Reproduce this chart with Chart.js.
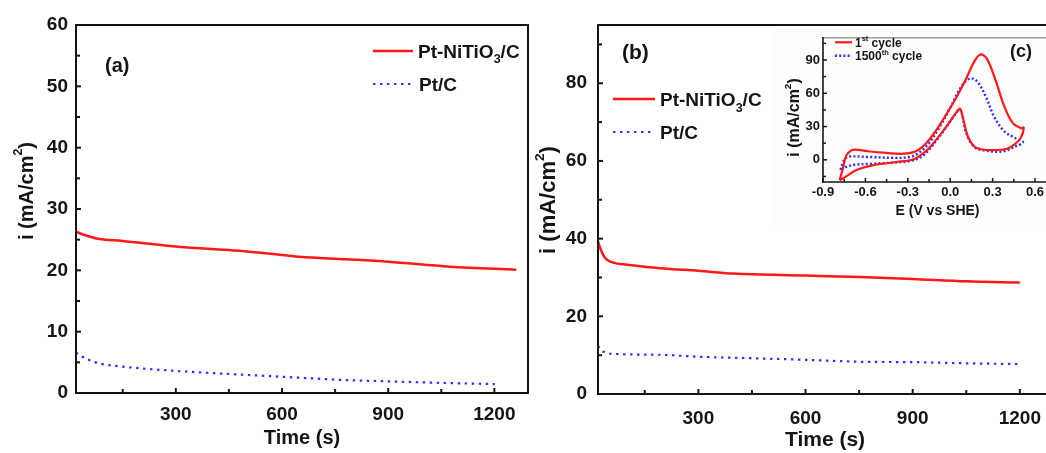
<!DOCTYPE html>
<html><head><meta charset="utf-8">
<script src="https://cdn.jsdelivr.net/npm/chart.js@4.4.1/dist/chart.umd.min.js"></script>
<style>
html,body{margin:0;padding:0;width:1046px;height:453px;overflow:hidden;background:#fff;}
.w{position:absolute;}
canvas{display:block;}
</style></head><body>
<div class="w" style="left:0;top:0;width:540px;height:453px"><canvas id="ca" width="540" height="453" style="width:540px;height:453px"></canvas></div>
<div class="w" style="left:525px;top:0;width:535px;height:453px"><canvas id="cb" width="535" height="453" style="width:535px;height:453px"></canvas></div>
<div class="w" style="left:772px;top:27px;width:288px;height:198px;background:#fdfdfd"><canvas id="cc" width="288" height="198" style="width:288px;height:198px"></canvas></div>
<script>
// ---------- data ----------
// (a) chronoamperometry
const timeA_PtNiTiO3 = [18, 40, 76, 150, 300, 450, 600, 650, 780, 900, 1075, 1262];
const currA_PtNiTiO3 = [26.3, 25.8, 25.2, 24.8, 23.9, 23.3, 22.5, 22.2, 21.8, 21.4, 20.6, 20.1];
const timeA_PtC = [18, 30, 50, 85, 150, 300, 450, 600, 783, 900, 1050, 1201];
const currA_PtC = [6.6, 6.1, 5.5, 4.8, 4.3, 3.6, 3.1, 2.65, 2.1, 1.9, 1.65, 1.45];
// (b) chronoamperometry
const timeB_PtNiTiO3 = [19, 25, 39, 67, 100, 193, 300, 398, 600, 752, 900, 1050, 1200];
const currB_PtNiTiO3 = [39.3, 37.6, 35.0, 33.7, 33.3, 32.4, 31.7, 31.0, 30.5, 30.1, 29.6, 29.0, 28.7];
const timeB_PtC = [19, 25, 34, 72, 193, 300, 454, 600, 752, 900, 1050, 1200];
const currB_PtC = [12.4, 11.6, 10.9, 10.3, 10.1, 9.6, 9.2, 8.8, 8.3, 8.2, 7.9, 7.7];
// (c) cyclic voltammograms
const cvE_1st = [-0.782, -0.76, -0.735, -0.70, -0.67, -0.57, -0.45, -0.33, -0.24, -0.17, -0.10, -0.03, 0.04, 0.11, 0.17, 0.215, 0.26, 0.32, 0.38, 0.44, 0.50, 0.52,
                 0.50, 0.465, 0.40, 0.30, 0.22, 0.17, 0.125, 0.095, 0.07, 0.045, -0.03, -0.10, -0.17, -0.26, -0.38, -0.55, -0.66, -0.73, -0.782];
const cvI_1st = [-18.5, -8, 4, 8.5, 9.2, 7.5, 6.2, 5.5, 8, 15, 26.5, 40.5, 55.5, 72.5, 88.5, 95, 91, 72, 49, 33.5, 28.5, 29,
                 20, 15, 10, 8.7, 9.5, 12, 21, 35, 46, 43, 29.5, 18, 8, 0.5, -2, -5, -9, -14.5, -18.5];
const cvE_1500 = [-0.777, -0.76, -0.745, -0.71, -0.57, -0.40, -0.29, -0.22, -0.15, -0.075, 0.0, 0.066, 0.11, 0.15, 0.195, 0.255, 0.31, 0.38, 0.455, 0.515,
                  0.47, 0.37, 0.26, 0.175, 0.115, 0.08, 0.065, 0.035, -0.03, -0.10, -0.19, -0.28, -0.40, -0.55, -0.68, -0.74, -0.777];
const cvI_1500 = [-9, -3, 1, 3, 2.5, 1.8, 2.5, 6.5, 15, 29.5, 47, 63.5, 71, 73.5, 70, 56, 39, 26, 20, 16,
                  12.5, 7.5, 8.2, 11, 23.5, 43, 45.5, 41, 29, 17, 4, -1, -2.5, -3.5, -4.5, -6.5, -9];
// tick labels
const timeTicks = [300, 600, 900, 1200];
const timeMinor = [150, 450, 750, 1050];
const yTicksA = [0, 10, 20, 30, 40, 50, 60];
const yMinorA = [5, 15, 25, 35, 45, 55];
const yTicksB = [0, 20, 40, 60, 80];
const yMinorB = [10, 30, 50, 70, 90];
const eTicks = [-0.9, -0.6, -0.3, 0.0, 0.3, 0.6];
const eMinor = [-0.75, -0.45, -0.15, 0.15, 0.45];
const iTicksC = [0, 30, 60, 90];
const iMinorC = [-15, 15, 45, 75, 105];
const seriesNames = ['Pt-NiTiO3/C', 'Pt/C'];
const cvNames = ['1st cycle', '1500th cycle'];

// ---------- style ----------
const FONT = '"Liberation Sans", Arial, Helvetica, sans-serif';
const INK = '#151515';
const RED = 'rgb(255,24,24)';
const BLUE = 'rgb(45,45,255)';

const pts = (xs, ys) => xs.map((x, i) => ({x, y: ys[i]}));
const setTicks = arr => s => { s.ticks = arr.map(v => ({value: v})); };

function xScale(min, max, ticks, fmt, fs, pad, h, title, ts, tpb) {
  return {type: 'linear', min, max, afterBuildTicks: setTicks(ticks), afterFit: s => { s.height = h; },
    grid: {display: false, drawTicks: false}, border: {display: false},
    ticks: {autoSkip: false, maxRotation: 0, padding: pad, color: INK, font: {family: FONT, size: fs, weight: 'bold'}, callback: fmt},
    title: {display: true, text: title, color: INK, font: {family: FONT, size: ts, weight: 'bold'}, padding: {top: 0, bottom: tpb}}};
}
function yScale(min, max, ticks, fmt, fs, pad, w) {
  return {type: 'linear', min, max, afterBuildTicks: setTicks(ticks), afterFit: s => { s.width = w; },
    grid: {display: false, drawTicks: false}, border: {display: false},
    ticks: {autoSkip: false, padding: pad, color: INK, font: {family: FONT, size: fs, weight: 'bold'}, callback: fmt}};
}

function line(ctx, x1, y1, x2, y2) { ctx.beginPath(); ctx.moveTo(x1, y1); ctx.lineTo(x2, y2); ctx.stroke(); }

const framePlugin = {
  id: 'frame',
  afterDatasetsDraw(chart, args, o) {
    if (!o || !o.sides) return;
    const {ctx, chartArea: a, scales: {x, y}} = chart;
    ctx.save();
    ctx.setLineDash([]);
    ctx.lineCap = 'square';
    const s = o.sides;
    const seg = (c, x1, y1, x2, y2) => { if (!c) return; ctx.strokeStyle = c; ctx.lineWidth = o.width; line(ctx, x1, y1, x2, y2); };
    seg(s.top, a.left, a.top, a.right, a.top);
    seg(s.right, a.right, a.top, a.right, a.bottom);
    seg(s.bottom, a.left, a.bottom, a.right, a.bottom);
    seg(s.left, a.left, a.top, a.left, a.bottom);
    ctx.strokeStyle = INK; ctx.lineWidth = o.tickWidth; ctx.lineCap = 'butt';
    o.xMajor.forEach(v => { const p = x.getPixelForValue(v); line(ctx, p, a.bottom, p, a.bottom - o.major); });
    o.xMinor.forEach(v => { const p = x.getPixelForValue(v); line(ctx, p, a.bottom, p, a.bottom - o.minor); });
    o.yMajor.forEach(v => { const p = y.getPixelForValue(v); line(ctx, a.left, p, a.left + o.major, p); });
    o.yMinor.forEach(v => { const p = y.getPixelForValue(v); line(ctx, a.left, p, a.left + o.minor, p); });
    ctx.restore();
  }
};

function rich(ctx, x, y, segs, size, measureOnly) {
  let cx = x;
  for (const s of segs) {
    let fs = size, dy = 0;
    if (s.m === 'sub') { fs = size * 0.66; dy = size * 0.3; }
    if (s.m === 'sup') { fs = size * 0.62; dy = -size * 0.42; }
    ctx.font = 'bold ' + fs + 'px ' + FONT;
    if (!measureOnly) ctx.fillText(s.t, cx, y + dy);
    cx += ctx.measureText(s.t).width;
  }
  return cx - x;
}

const notesPlugin = {
  id: 'notes',
  afterDraw(chart, args, o) {
    if (!o || !o.items) return;
    const ctx = chart.ctx;
    ctx.save();
    ctx.fillStyle = INK;
    for (const it of o.items) {
      if (it.kind === 'text') {
        ctx.textBaseline = 'alphabetic'; ctx.textAlign = 'left';
        rich(ctx, it.x, it.y, it.segs, it.size);
      } else if (it.kind === 'legend') {
        const ds = chart.data.datasets[it.ds];
        ctx.save();
        ctx.strokeStyle = ds.borderColor; ctx.lineWidth = ds.borderWidth;
        ctx.setLineDash(ds.borderDash || []);
        line(ctx, it.x1, it.ly, it.x2, it.ly);
        ctx.restore();
        ctx.textBaseline = 'alphabetic'; ctx.textAlign = 'left';
        rich(ctx, it.tx, it.ty, it.segs, it.size);
      } else if (it.kind === 'vtitle') {
        ctx.save();
        ctx.translate(it.cx, it.cy);
        ctx.rotate(-Math.PI / 2);
        ctx.textBaseline = 'middle'; ctx.textAlign = 'left';
        const w = rich(ctx, 0, 0, it.segs, it.size, true);
        rich(ctx, -w / 2, 0, it.segs, it.size);
        ctx.restore();
      }
    }
    ctx.restore();
  }
};
Chart.register(framePlugin, notesPlugin);
Chart.defaults.font.family = FONT;

const iTitle = [{t: 'i (mA/cm'}, {t: '2', m: 'sup'}, {t: ')'}];
const legSegs = [[{t: 'Pt-NiTiO'}, {t: '3', m: 'sub'}, {t: '/C'}], [{t: 'Pt/C'}]];
const num = v => String(v);

function tDatasets(t1, c1, t2, c2) {
  return [
    {label: seriesNames[0], data: pts(t1, c1), showLine: true, borderColor: RED, borderWidth: 2.5, pointRadius: 0, cubicInterpolationMode: 'monotone'},
    {label: seriesNames[1], data: pts(t2, c2), showLine: true, borderColor: BLUE, borderWidth: 2.2, borderDash: [2.4, 4.6], pointRadius: 0, cubicInterpolationMode: 'monotone'}
  ];
}
const common = {responsive: false, animation: false, devicePixelRatio: 1, events: []};

// ---------- panel (a) ----------
new Chart(document.getElementById('ca'), {
  type: 'scatter',
  data: {datasets: tDatasets(timeA_PtNiTiO3, currA_PtNiTiO3, timeA_PtC, currA_PtC)},
  options: Object.assign({}, common, {
    layout: {padding: {top: 25, right: 12, left: 0, bottom: 0}},
    scales: {
      x: xScale(18, 1295, timeTicks, num, 19, 10, 60, 'Time (s)', 20, 3),
      y: yScale(0, 60, yTicksA, num, 19, 8, 76)
    },
    plugins: {legend: {display: false}, tooltip: {enabled: false},
      frame: {sides: {top: INK, right: INK, bottom: INK, left: INK}, width: 2, tickWidth: 2, major: 5, minor: 4,
        xMajor: timeTicks, xMinor: timeMinor, yMajor: yTicksA, yMinor: yMinorA},
      notes: {items: [
        {kind: 'text', x: 105, y: 72, size: 20, segs: [{t: '(a)'}]},
        {kind: 'legend', ds: 0, x1: 373, x2: 413, ly: 51, tx: 418, ty: 57.6, size: 19, segs: legSegs[0]},
        {kind: 'legend', ds: 1, x1: 373, x2: 411, ly: 84, tx: 419, ty: 90.6, size: 19, segs: legSegs[1]},
        {kind: 'vtitle', cx: 27, cy: 191, size: 20, segs: iTitle}
      ]}}
  })
});

// ---------- panel (b) ----------
new Chart(document.getElementById('cb'), {
  type: 'scatter',
  data: {datasets: tDatasets(timeB_PtNiTiO3, currB_PtNiTiO3, timeB_PtC, currB_PtC)},
  options: Object.assign({}, common, {
    layout: {padding: {top: 25, right: 8, left: 0, bottom: 0}},
    scales: {
      x: xScale(19, 1290, timeTicks, num, 19, 13, 59, 'Time (s)', 21, 0),
      y: yScale(0, 95, yTicksB, num, 19, 11, 73)
    },
    plugins: {legend: {display: false}, tooltip: {enabled: false},
      frame: {sides: {top: INK, right: INK, bottom: INK, left: INK}, width: 2, tickWidth: 2, major: 5, minor: 4,
        xMajor: timeTicks, xMinor: timeMinor, yMajor: yTicksB, yMinor: yMinorB},
      notes: {items: [
        {kind: 'text', x: 97, y: 58.5, size: 21, segs: [{t: '(b)'}]},
        {kind: 'legend', ds: 0, x1: 88, x2: 130, ly: 99, tx: 135, ty: 105.8, size: 19, segs: legSegs[0]},
        {kind: 'legend', ds: 1, x1: 88, x2: 128, ly: 132, tx: 135, ty: 138.6, size: 19, segs: legSegs[1]},
        {kind: 'vtitle', cx: 24, cy: 200, size: 22, segs: iTitle}
      ]}}
  })
});

// ---------- panel (c) inset ----------
new Chart(document.getElementById('cc'), {
  type: 'scatter',
  data: {datasets: [
    {label: cvNames[0], data: pts(cvE_1st, cvI_1st), showLine: true, borderColor: RED, borderWidth: 2.2, pointRadius: 0, tension: 0.35},
    {label: cvNames[1], data: pts(cvE_1500, cvI_1500), showLine: true, borderColor: BLUE, borderWidth: 2.4, borderDash: [2, 2.2], pointRadius: 0, tension: 0.35}
  ]},
  options: Object.assign({}, common, {
    layout: {padding: {top: 5, right: 8, left: 0, bottom: 0}},
    scales: {
      x: xScale(-0.9, 0.72, eTicks, v => v.toFixed(1), 13, 3, 43, 'E (V vs SHE)', 14, 5),
      y: yScale(-20, 110, iTicksC, num, 13, 3, 51)
    },
    plugins: {legend: {display: false}, tooltip: {enabled: false},
      frame: {sides: {top: '#9c9c9c', bottom: INK, left: INK}, width: 1.6, tickWidth: 1.5, major: 4, minor: 3,
        xMajor: eTicks, xMinor: eMinor, yMajor: iTicksC, yMinor: iMinorC},
      notes: {items: [
        {kind: 'text', x: 238, y: 29.5, size: 18, segs: [{t: '(c)'}]},
        {kind: 'legend', ds: 0, x1: 63, x2: 80, ly: 15.3, tx: 83, ty: 19.5, size: 12, segs: [{t: '1'}, {t: 'st', m: 'sup'}, {t: ' cycle'}]},
        {kind: 'legend', ds: 1, x1: 63, x2: 80, ly: 28.7, tx: 83, ty: 33, size: 12, segs: [{t: '1500'}, {t: 'th', m: 'sup'}, {t: ' cycle'}]},
        {kind: 'vtitle', cx: 23, cy: 90.5, size: 16, segs: iTitle}
      ]}}
  })
});
</script>
</body></html>
